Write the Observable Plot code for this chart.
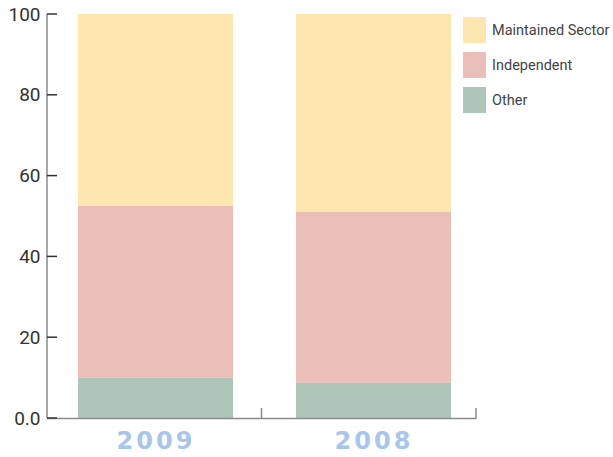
<!DOCTYPE html>
<html>
<head>
<meta charset="utf-8">
<script src="https://cdn.jsdelivr.net/npm/d3@7"></script>
<script src="https://cdn.jsdelivr.net/npm/@observablehq/plot@0.6"></script>
<style>
  body { margin: 0; background: #fff; }
  #wrap { position: relative; width: 613px; height: 457px; overflow: hidden; }
  #legend { position: absolute; left: 463px; top: 17px; font-family: Roboto, sans-serif; font-size: 14.5px; color: #444; }
  .item { display: flex; align-items: center; height: 26px; margin-bottom: 9px; white-space: nowrap; }
  .sw { width: 23px; height: 26px; margin-right: 6px; flex: none; }
  g[aria-label="x-axis tick label"] text { letter-spacing: 3px; }
</style>
</head>
<body>
<div id="wrap"><div id="legend"></div></div>
<script>
const years = ["2009", "2008"];
const sectors = ["Maintained Sector", "Independent", "Other"];
const colors = ["#fee6b0", "#ebbfb8", "#b0c5b9"];
const maintained = [47.5, 49.0];
const independent = [42.5, 42.3];
const other = [10.0, 8.7];
const yTicks = [0, 20, 40, 60, 80, 100];

const series = [maintained, independent, other];
const data = [];
years.forEach((yr, i) => {
  sectors.forEach((s, j) => data.push({ year: yr, sector: s, value: series[j][i] }));
});

const axisDecor = (index, scales, values, dims) => {
  const g = d3.create("svg:g");
  const x0 = dims.marginLeft, x1 = dims.width - dims.marginRight;
  const y0 = scales.y(0), yTop = scales.y(100);
  g.append("line").attr("x1", x0).attr("x2", x0).attr("y1", yTop).attr("y2", y0)
    .attr("stroke", "#8a8a8a").attr("stroke-width", 1.5);
  g.append("line").attr("x1", x0).attr("x2", x1).attr("y1", y0 + 0.5).attr("y2", y0 + 0.5)
    .attr("stroke", "#8a8a8a").attr("stroke-width", 1.5);
  [(x0 + x1) / 2, x1].forEach(x => {
    g.append("line").attr("x1", x).attr("x2", x).attr("y1", y0 - 10).attr("y2", y0 + 1)
      .attr("stroke", "#8a8a8a").attr("stroke-width", 1.5);
  });
  yTicks.forEach(t => {
    const y = scales.y(t);
    g.append("line").attr("x1", x0).attr("x2", x0 + 10).attr("y1", y).attr("y2", y)
      .attr("stroke", "#333").attr("stroke-width", 1.5);
  });
  return g.node();
};

const chart = Plot.plot({
  width: 613,
  height: 457,
  marginLeft: 47,
  marginRight: 137,
  marginTop: 14,
  marginBottom: 39,
  style: { background: "#fff", overflow: "visible" },
  x: { domain: years, paddingInner: 0.289, paddingOuter: 0.128, align: 0.55, label: null },
  y: { domain: [0, 100], label: null },
  color: { domain: sectors, range: colors },
  marks: [
    Plot.barY(data, { x: "year", y: "value", fill: "sector", order: ["Other", "Independent", "Maintained Sector"] }),
    Plot.axisY(yTicks, { tickSize: 0, tickPadding: 7, fontSize: 19, fill: "#333", fontFamily: "Roboto, sans-serif",
      tickFormat: d => d === 0 ? "0.0" : String(d), label: null }),
    Plot.axisX({ tickSize: 0, tickPadding: 13, fontSize: 24, fontWeight: "bold", fill: "#a7c6ea",
      fontFamily: "DejaVu Sans, sans-serif", label: null }),
    axisDecor
  ]
});
const wrap = document.getElementById("wrap");
wrap.insertBefore(chart, wrap.firstChild);

const legend = document.getElementById("legend");
sectors.forEach((s, i) => {
  const it = document.createElement("div");
  it.className = "item";
  it.innerHTML = `<div class="sw" style="background:${colors[i]}"></div><span>${s}</span>`;
  legend.appendChild(it);
});
</script>
</body>
</html>
